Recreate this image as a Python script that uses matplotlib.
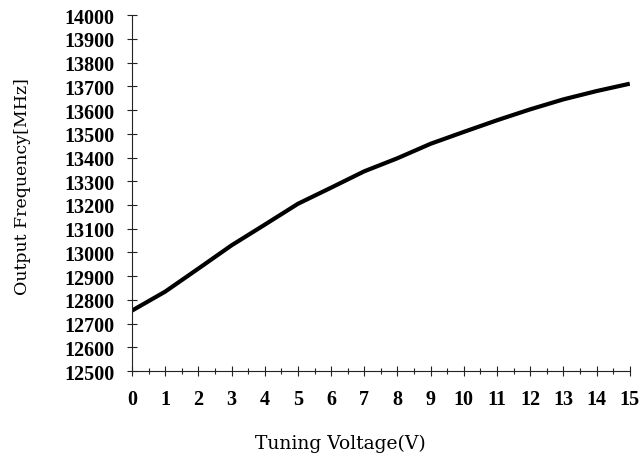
import matplotlib
matplotlib.use("Agg")
import matplotlib.pyplot as plt
from matplotlib.ticker import MultipleLocator

# tuning voltage (V) vs output frequency (MHz)
voltage = [0, 1, 2, 3, 4, 5, 6, 7, 8, 9, 10, 11, 12, 13, 14, 15]
freq = [12755, 12835, 12932, 13030, 13117, 13205, 13273, 13342, 13397, 13458,
        13508, 13557, 13603, 13645, 13680, 13711]

x_ticks = list(range(0, 16))
y_ticks = list(range(12500, 14001, 100))

fig = plt.figure(figsize=(6.42, 4.6), dpi=100)
ax = fig.add_axes([0.2056, 0.191, 0.7754, 0.774])

ax.plot(voltage, freq, color="black", linewidth=3.0, solid_capstyle="butt",
        solid_joinstyle="round")

ax.set_xlim(0, 15)
ax.set_ylim(12500, 14000)
ax.set_xticks(x_ticks)
ax.set_yticks(y_ticks)
ax.xaxis.set_minor_locator(MultipleLocator(0.5))

for side in ["top", "right"]:
    ax.spines[side].set_visible(False)
for side in ["left", "bottom"]:
    ax.spines[side].set_linewidth(0.8)
    ax.spines[side].set_color("#222222")

ax.tick_params(axis="both", which="major", direction="inout", length=7, width=0.8,
               color="#222222")
ax.tick_params(axis="x", which="minor", direction="inout", length=4, width=0.8,
               color="#222222")
ax.tick_params(axis="x", pad=9)
ax.tick_params(axis="y", pad=9)

for lbl in ax.get_xticklabels() + ax.get_yticklabels():
    lbl.set_fontfamily("Liberation Serif")
    lbl.set_fontweight("bold")
    lbl.set_fontsize(14.5)

ax.set_ylabel("Output Frequency[MHz]", fontfamily="DejaVu Serif", fontsize=12.5)
ax.yaxis.set_label_coords(-0.203, 0.52)
ax.set_xlabel("Tuning Voltage(V)", fontfamily="DejaVu Serif", fontsize=13.5)
ax.xaxis.set_label_coords(0.419, -0.175)

fig.savefig("out.png", dpi=100)
